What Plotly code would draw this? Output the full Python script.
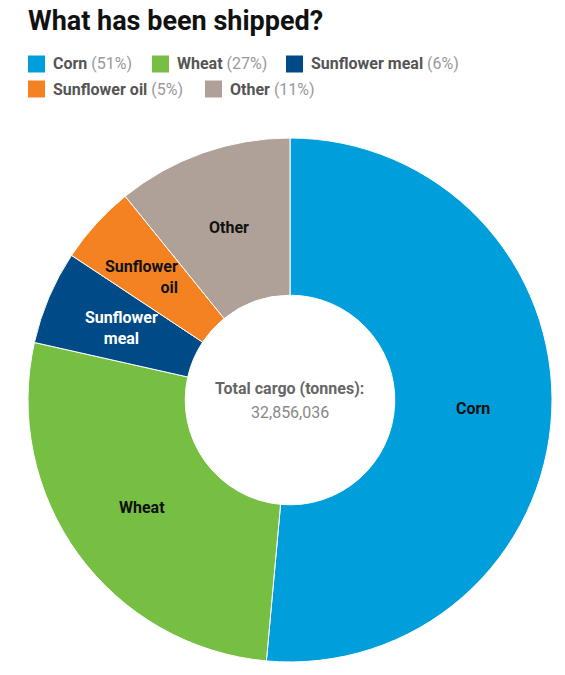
import math
import plotly.graph_objects as go

# the page has an 8px body margin, so the figure is a bit smaller than the window
OFF = 8
W, H = 565 - OFF, 675 - OFF

# cargo by commodity (tonnes)
labels = ["Corn", "Wheat", "Sunflower meal", "Sunflower oil", "Other"]
slice_text = ["Corn", "Wheat", "Sunflower<br>meal", "Sunflower<br>oil", "Other"]
values = [16900000, 8900000, 1900000, 1600000, 3556036]
colors = ["#009FDB", "#76BF43", "#004A87", "#F58220", "#AFA197"]
text_colors = ["#111111", "#111111", "#FFFFFF", "#111111", "#111111"]
total = sum(values)

# donut geometry in window pixels
CX, CY, R_OUT, HOLE = 290, 400, 262, 0.4


def px(x):
    return (x - OFF) / W


def py(y):
    return 1 - (y - OFF) / H


fig = go.Figure()

fig.add_trace(go.Pie(
    labels=labels,
    values=values,
    textinfo="none",
    marker=dict(colors=colors, line=dict(color="white", width=1)),
    hole=HOLE,
    sort=False,
    direction="clockwise",
    rotation=0,
    showlegend=False,
    hoverinfo="label+value+percent",
    domain=dict(x=[px(CX - R_OUT), px(CX + R_OUT)], y=[py(CY + R_OUT), py(CY - R_OUT)]),
))

annotations = []

# slice labels, placed on the middle of each ring segment
r_mid = R_OUT * (1 + HOLE) / 2
label_align = ["center", "center", "center", "right", "center"]
label_xshift = [0, 0, 0, -13, 0]
cum = 0
for i, v in enumerate(values):
    a = 2 * math.pi * (cum + v / 2) / total
    cum += v
    annotations.append(dict(
        x=px(CX + r_mid * math.sin(a)), y=py(CY - r_mid * math.cos(a)),
        xref="paper", yref="paper", xanchor="center", yanchor="middle",
        showarrow=False,
        text="<b>%s</b>" % slice_text[i], align=label_align[i], xshift=label_xshift[i],
        font=dict(family="Roboto", size=16, color=text_colors[i]),
    ))

# legend drawn by hand: two rows like the original
rows = [[0, 1, 2], [3, 4]]
row_y = [64, 89]
row_x = [[28, 152, 286], [28, 205]]

shapes = []
for r, idxs in enumerate(rows):
    for j, i in enumerate(idxs):
        x0 = row_x[r][j]
        yc = row_y[r]
        shapes.append(dict(type="rect", xref="paper", yref="paper",
                           x0=px(x0), x1=px(x0 + 17), y0=py(yc + 8.5), y1=py(yc - 8.5),
                           fillcolor=colors[i], line=dict(width=0)))
        pct = round(values[i] / total * 100)
        annotations.append(dict(
            x=px(x0 + 23), y=py(yc), xref="paper", yref="paper",
            xanchor="left", yanchor="middle", showarrow=False,
            text="<b>%s</b> <span style='color:#999999'>(%d%%)</span>" % (labels[i], pct),
            font=dict(family="Roboto", size=16, color="#555555"),
        ))

annotations.append(dict(
    x=px(CX), y=py(388), xref="paper", yref="paper", xanchor="center", yanchor="middle",
    showarrow=False, text="<b>Total cargo (tonnes):</b>",
    font=dict(family="Roboto", size=16, color="#666666"),
))
annotations.append(dict(
    x=px(CX), y=py(412), xref="paper", yref="paper", xanchor="center", yanchor="middle",
    showarrow=False, text=f"{total:,}",
    font=dict(family="Roboto", size=16, color="#888888"),
))

fig.update_layout(
    width=W, height=H,
    margin=dict(l=0, r=0, t=0, b=0),
    paper_bgcolor="white",
    title=dict(text="<b>What has been shipped?</b>", x=px(28), xanchor="left",
               y=1, yanchor="top", pad=dict(t=3),
               font=dict(family="Roboto", size=27, color="#111111")),
    shapes=shapes,
    annotations=annotations,
)

fig.write_html("out.html")
